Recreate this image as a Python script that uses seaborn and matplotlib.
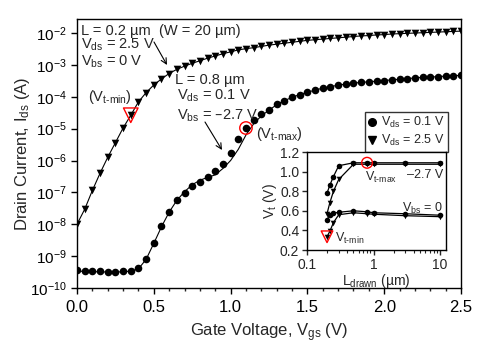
import numpy as np
import pandas as pd
import seaborn as sns
import matplotlib.pyplot as plt
from matplotlib.lines import Line2D
from matplotlib.ticker import MultipleLocator, LogLocator, FixedLocator, NullFormatter

# ----------------------
# Data (log10 of drain current)
# ----------------------
vgs = [0.00, 0.05, 0.10, 0.15, 0.20, 0.25, 0.30, 0.35, 0.40, 0.45,
       0.50, 0.55, 0.60, 0.65, 0.70, 0.75, 0.80, 0.85, 0.90, 0.95,
       1.00, 1.05, 1.10, 1.15, 1.20, 1.25, 1.30, 1.35, 1.40, 1.45,
       1.50, 1.55, 1.60, 1.65, 1.70, 1.75, 1.80, 1.85, 1.90, 1.95,
       2.00, 2.05, 2.10, 2.15, 2.20, 2.25, 2.30, 2.35, 2.40, 2.45, 2.50]

# L = 0.8 um, Vds = 0.1 V, Vbs = -2.7 V (circles, measured)
log_id_lo = [-9.44, -9.47, -9.48, -9.48, -9.50, -9.50, -9.48, -9.47, -9.37, -9.08,
             -8.60, -8.07, -7.61, -7.25, -7.02, -6.81, -6.67, -6.52, -6.34, -6.10,
             -5.75, -5.34, -4.98, -4.73, -4.53, -4.40, -4.24, -4.12, -4.02, -3.93,
             -3.86, -3.79, -3.73, -3.68, -3.64, -3.60, -3.57, -3.55, -3.53, -3.51,
             -3.49, -3.47, -3.45, -3.43, -3.41, -3.39, -3.38, -3.37, -3.35, -3.34, -3.33]
# model curve for the same device
log_id_lo_fit = [-9.47, -9.48, -9.49, -9.49, -9.50, -9.50, -9.49, -9.47, -9.40, -9.10,
                 -8.60, -8.08, -7.62, -7.25, -6.98, -6.76, -6.62, -6.53, -6.45, -6.25,
                 -6.00, -5.65, -5.20, -4.85, -4.60, -4.42, -4.25, -4.12, -4.02, -3.93,
                 -3.86, -3.79, -3.73, -3.68, -3.64, -3.60, -3.57, -3.55, -3.53, -3.51,
                 -3.49, -3.47, -3.45, -3.43, -3.41, -3.39, -3.38, -3.37, -3.35, -3.34, -3.33]

# L = 0.2 um, Vds = 2.5 V, Vbs = 0 V (triangles)
log_id_hi = [-8.00, -7.53, -6.94, -6.40, -5.90, -5.44, -4.98, -4.58, -4.16, -3.87,
             -3.63, -3.44, -3.27, -3.14, -3.04, -2.95, -2.87, -2.79, -2.72, -2.65,
             -2.59, -2.53, -2.49, -2.46, -2.42, -2.38, -2.35, -2.32, -2.29, -2.26,
             -2.23, -2.21, -2.19, -2.17, -2.15, -2.13, -2.11, -2.09, -2.08, -2.06,
             -2.05, -2.03, -2.02, -2.01, -2.00, -1.99, -1.98, -1.97, -1.96, -1.95, -1.94]

vt_min_vgs = [0.35]
vt_max_vgs = [1.10]

# inset: Vt vs drawn length
l_drawn = [0.2, 0.22, 0.25, 0.3, 0.5, 0.8, 1.0, 3.0, 10.0]
vt_c_27 = [0.78, 0.86, 0.95, 1.06, 1.09, 1.09, 1.09, 1.09, 1.09]   # Vds 0.1, Vbs -2.7
vt_t_27 = [0.57, 0.68, 0.80, 0.92, 1.075, 1.075, 1.075, 1.075, 1.075]  # Vds 2.5, Vbs -2.7
vt_c_0 = [0.51, 0.56, 0.575, 0.585, 0.60, 0.59, 0.58, 0.57, 0.555]  # Vds 0.1, Vbs 0
vt_t_0 = [0.335, 0.39, 0.48, 0.56, 0.58, 0.57, 0.565, 0.55, 0.54]   # Vds 2.5, Vbs 0

# ----------------------
# Style
# ----------------------
sns.set_style('ticks')
plt.rcParams['font.family'] = ['Liberation Sans', 'DejaVu Sans']
plt.rcParams['mathtext.default'] = 'regular'
plt.rcParams['axes.linewidth'] = 1.0

W, H = 489, 354
fig = plt.figure(figsize=(W / 100, H / 100), dpi=100)

def fx(px):
    return px / W

def fy(py):
    return 1 - py / H

# ----------------------
# Main axes
# ----------------------
ax = fig.add_axes([fx(77), fy(288), (461 - 77) / W, (288 - 19) / H])

df_lo = pd.DataFrame({'vgs': vgs, 'ids': 10 ** np.array(log_id_lo)})
df_lo_fit = pd.DataFrame({'vgs': vgs, 'ids': 10 ** np.array(log_id_lo_fit)})
df_hi = pd.DataFrame({'vgs': vgs, 'ids': 10 ** np.array(log_id_hi)})

sns.lineplot(data=df_lo_fit, x='vgs', y='ids', color='black', lw=0.8, ax=ax)
sns.lineplot(data=df_hi, x='vgs', y='ids', color='black', lw=0.8, ax=ax)
sns.scatterplot(data=df_lo, x='vgs', y='ids', marker='o', color='black', s=30,
                edgecolor='black', linewidth=0, ax=ax, zorder=3)
sns.scatterplot(data=df_hi, x='vgs', y='ids', marker='v', color='black', s=30,
                edgecolor='black', linewidth=0, ax=ax, zorder=3)

# red highlight markers
tmin = df_hi[np.isclose(df_hi['vgs'], vt_min_vgs[0])]
tmax = df_lo[np.isclose(df_lo['vgs'], vt_max_vgs[0])]
ax.scatter(tmin['vgs'], tmin['ids'], marker='v', s=110, facecolors='none',
           edgecolors='red', linewidths=1.0, zorder=4)
ax.scatter(tmax['vgs'], tmax['ids'], marker='o', s=80, facecolors='none',
           edgecolors='red', linewidths=1.0, zorder=4)

ax.set_yscale('log')
ax.set_xlim(0, 2.5)
ax.set_ylim(1e-10, 10 ** -1.56)
ax.xaxis.set_major_locator(MultipleLocator(0.5))
ax.xaxis.set_minor_locator(MultipleLocator(0.1))
ax.xaxis.set_major_formatter(plt.FuncFormatter(lambda v, p: f'{v:.1f}'))
ax.yaxis.set_major_locator(LogLocator(base=10, numticks=20))
ax.yaxis.set_minor_locator(FixedLocator([]))
ax.yaxis.set_minor_formatter(NullFormatter())
ax.tick_params(axis='both', which='major', direction='out', length=4, width=1,
               colors='black')
ax.tick_params(axis='x', which='major', labelsize=12, pad=5)
ax.tick_params(axis='y', which='major', labelsize=11)
ax.tick_params(axis='x', which='minor', direction='out', length=2.5, width=1)
for s in ax.spines.values():
    s.set_visible(True)
    s.set_color('black')

ax.set_xlabel('Gate Voltage, V$_{gs}$ (V)', fontsize=12)
ax.set_ylabel('Drain Current, I$_{ds}$ (A)', fontsize=12)
ax.xaxis.set_label_coords(0.5, -0.125)
ax.yaxis.set_label_coords(-0.118, 0.5)

# legend
handles = [Line2D([], [], ls='none', marker='o', color='black', ms=5.5),
           Line2D([], [], ls='none', marker='v', color='black', ms=5.5)]
leg = ax.legend(handles, ['V$_{ds}$ = 0.1 V', 'V$_{ds}$ = 2.5 V'],
                loc='upper right', bbox_to_anchor=((448 - 77) / 384, (288 - 112) / 269),
                fontsize=9, frameon=True, fancybox=False, handlelength=0.7,
                handletextpad=0.4, borderpad=0.25, labelspacing=0.25,
                borderaxespad=0)
leg.get_frame().set_edgecolor('black')
leg.get_frame().set_linewidth(1.0)

# annotations
tk = dict(fontsize=10.5, va='center', ha='left')
fig.text(fx(81), fy(31), 'L = 0.2 µm  (W = 20 µm)', **tk)
fig.text(fx(81), fy(45), 'V$_{ds}$ = 2.5 V', **tk)
fig.text(fx(81), fy(62), 'V$_{bs}$ = 0 V', **tk)
fig.text(fx(88), fy(97), '(V$_{t\u2010min}$)', **tk)
fig.text(fx(175), fy(80), 'L = 0.8 µm', **tk)
fig.text(fx(177), fy(96), 'V$_{ds}$ = 0.1 V', **tk)
fig.text(fx(177), fy(116), 'V$_{bs}$ = \u20132.7 V', **tk)
fig.text(fx(256), fy(134), '(V$_{t\u2010max}$)', **tk)
arr = dict(arrowstyle='->', color='black', lw=0.8, shrinkA=0, shrinkB=0)
ax.annotate('', xy=(fx(167), fy(65)), xytext=(fx(154), fy(42)),
            xycoords='figure fraction', textcoords='figure fraction', arrowprops=arr)
ax.annotate('', xy=(fx(222), fy(150)), xytext=(fx(205), fy(122)),
            xycoords='figure fraction', textcoords='figure fraction', arrowprops=arr)

# ----------------------
# Inset
# ----------------------
ins = fig.add_axes([fx(307), fy(250), (446 - 307) / W, (250 - 152) / H])
inset_sets = [(vt_c_27, 'o'), (vt_t_27, 'v'), (vt_c_0, 'o'), (vt_t_0, 'v')]
for vals, mk in inset_sets:
    d = pd.DataFrame({'L': l_drawn, 'vt': vals})
    sns.lineplot(data=d, x='L', y='vt', color='black', lw=0.9, ax=ins)
    sns.scatterplot(data=d, x='L', y='vt', marker=mk, color='black', s=16,
                    linewidth=0, ax=ins, zorder=3)
ins.scatter([l_drawn[0]], [vt_t_0[0]], marker='v', s=70, facecolors='none',
            edgecolors='red', linewidths=1.0, zorder=4)
ins.scatter([l_drawn[5]], [vt_c_27[5]], marker='o', s=60, facecolors='none',
            edgecolors='red', linewidths=1.0, zorder=4)

ins.set_xscale('log')
ins.set_xlim(0.1, 12.3)
ins.set_ylim(0.2, 1.2)
ins.yaxis.set_major_locator(MultipleLocator(0.2))
ins.yaxis.set_major_formatter(plt.FuncFormatter(lambda v, p: f'{v:.1f}'))
ins.xaxis.set_major_locator(FixedLocator([0.1, 1, 10]))
ins.xaxis.set_major_formatter(plt.FuncFormatter(lambda v, p: f'{v:g}'))
ins.xaxis.set_minor_locator(LogLocator(base=10, subs=np.arange(2, 10), numticks=20))
ins.xaxis.set_minor_formatter(NullFormatter())
ins.tick_params(axis='both', which='major', direction='out', length=3.5, width=1,
                labelsize=10, pad=2)
ins.tick_params(axis='x', which='minor', direction='out', length=2, width=0.8)
for s in ins.spines.values():
    s.set_visible(True)
    s.set_color('black')
ins.set_xlabel('L$_{drawn}$ (µm)', fontsize=10, labelpad=0)
ins.set_ylabel('V$_t$ (V)', fontsize=10, labelpad=1)

tki = dict(fontsize=9, va='center')
fig.text(fx(365), fy(177), 'V$_{t\u2010max}$', ha='left', **tki)
fig.text(fx(443), fy(175), '\u20132.7 V', ha='right', **tki)
fig.text(fx(443), fy(208), 'V$_{bs}$ = 0', ha='right', **tki)
fig.text(fx(335), fy(238), 'V$_{t\u2010min}$', ha='left', **tki)

fig.savefig('out.png', dpi=100)
plt.close(fig)
